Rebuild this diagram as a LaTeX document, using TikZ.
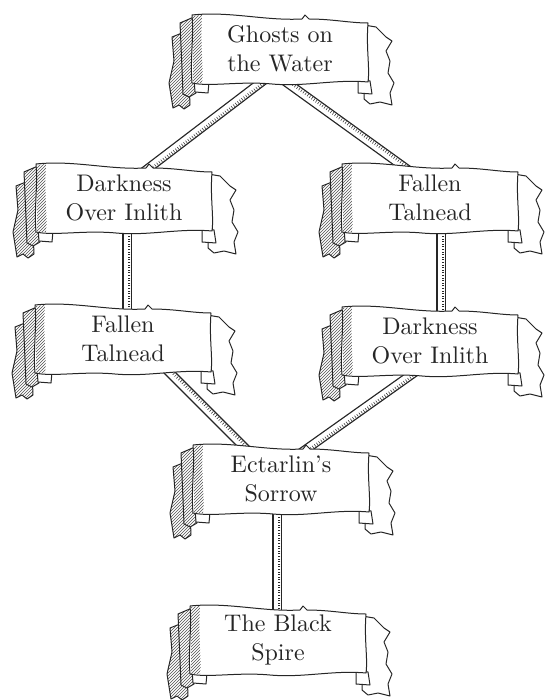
\documentclass[tikz,border=0pt]{standalone}
\usepackage{fontspec}
\setmainfont{lmroman10-regular}[Extension=.otf]
\usetikzlibrary{calc,patterns,decorations.pathreplacing}
\pgfdeclarelayer{bars}
\pgfdeclarelayer{paper}
\pgfsetlayers{bars,paper,main}
\definecolor{inkline}{RGB}{38,38,38}
\tikzset{
  scroll/.style={
    minimum width=176pt,
    minimum height=68pt,
    inner sep=0pt,
    align=center,
    font=\fontsize{24}{29}\selectfont,
    text=inkline
  },
  sheet/.style={draw=inkline, line width=1pt, fill=white, line join=round},
  shade/.style={draw=inkline, line width=1pt, preaction={fill=white},
    pattern=north east lines, pattern color=inkline!80, line join=round},
  bar/.style={
    draw=inkline, line width=9.6pt,
    postaction={draw=white, line width=7pt},
    postaction={draw=inkline, line width=0.5pt, decorate,
      decoration={ticks, segment length=2.6pt, amplitude=1.4pt, raise=2pt}}
  }
}
% one banner, drawn round a named node
\newcommand\drawscroll[1]{%
  \begin{scope}[shift={(#1.center)}]
    % ragged tail
    \draw[sheet] (84,-24) -- (96,-22) -- (106,-12) -- (112,-8) -- (106,2) -- (110,12)
      -- (108,24) -- (114,34) -- (110,44) -- (112,56) -- (100,53) -- (90,55) -- (84,50) -- cycle;
    % folds behind
    \draw[shade] (-108,-12) -- (-93,-18) -- (-90,56) -- (-96,60) -- (-101,56)
      -- (-107,59) -- (-111,34) -- (-106,12) -- cycle;
    \draw[shade] (-100,-26) -- (-86,-32) -- (-84,44) -- (-91,48) -- (-97,45) -- (-98,20) -- cycle;
    % curls under the body
    \draw[sheet] (-86,30) -- (-85,43) -- (-72,44) -- (-71,33) -- cycle;
    \draw[sheet] (78,30) -- (78,44) -- (92,45) -- (90,32) -- cycle;
    % body
    \draw[sheet] (-88,-34) .. controls (-50,-38) and (-15,-28) .. (22,-30) -- (25,-34) -- (29,-30)
      .. controls (52,-30) and (70,-26) .. (88,-26)
      .. controls (86,0) and (90,18) .. (88,33)
      .. controls (55,30) and (25,38) .. (-8,35)
      .. controls (-40,32) and (-70,38) .. (-88,34)
      .. controls (-90,10) and (-86,-12) .. cycle;
    \fill[pattern=north east lines, pattern color=inkline!80] (-87,-33) -- (-78,-34)
      .. controls (-80,0) and (-76,20) .. (-78,34) -- (-87,34) -- cycle;
  \end{scope}}

\begin{document}
\begin{tikzpicture}[x=1pt, y=-1pt]
  \useasboundingbox (0,0) rectangle (550,700);

  \node[scroll] (ghosts) at (280,49) {Ghosts on\\the Water};
  \node[scroll] (darkL) at (124,198) {Darkness\\Over Inlith};
  \node[scroll] (fallR) at (430,198) {Fallen\\Talnead};
  \node[scroll] (fallL) at (123,339) {Fallen\\Talnead};
  \node[scroll] (darkR) at (430,341) {Darkness\\Over Inlith};
  \node[scroll] (ect) at (281,479) {Ectarlin's\\Sorrow};
  \node[scroll] (spire) at (278,640) {The Black\\Spire};

  \begin{pgfonlayer}{paper}
    \foreach \n in {ghosts,darkL,fallR,fallL,darkR,ect,spire}
      \drawscroll{\n};
  \end{pgfonlayer}

  \begin{pgfonlayer}{bars}
    \draw[bar] ($(ghosts)+(-8,25)$) -- ($(darkL)+(9,-18)$);
    \draw[bar] ($(ghosts)+(-5,25)$) -- ($(fallR)+(-8,-18)$);
    \draw[bar] ($(darkL)+(3,20)$) -- ($(fallL)+(4,-20)$);
    \draw[bar] ($(fallR)+(11,20)$) -- ($(darkR)+(11,-20)$);
    \draw[bar] ($(fallL)+(29,16)$) -- ($(ect)+(-24,-19)$);
    \draw[bar] ($(darkR)+(9,14)$) -- ($(ect)+(10,-19)$);
    \draw[bar] ($(ect)+(-4,20)$) -- ($(spire)+(-1,-20)$);
  \end{pgfonlayer}
\end{tikzpicture}
\end{document}
